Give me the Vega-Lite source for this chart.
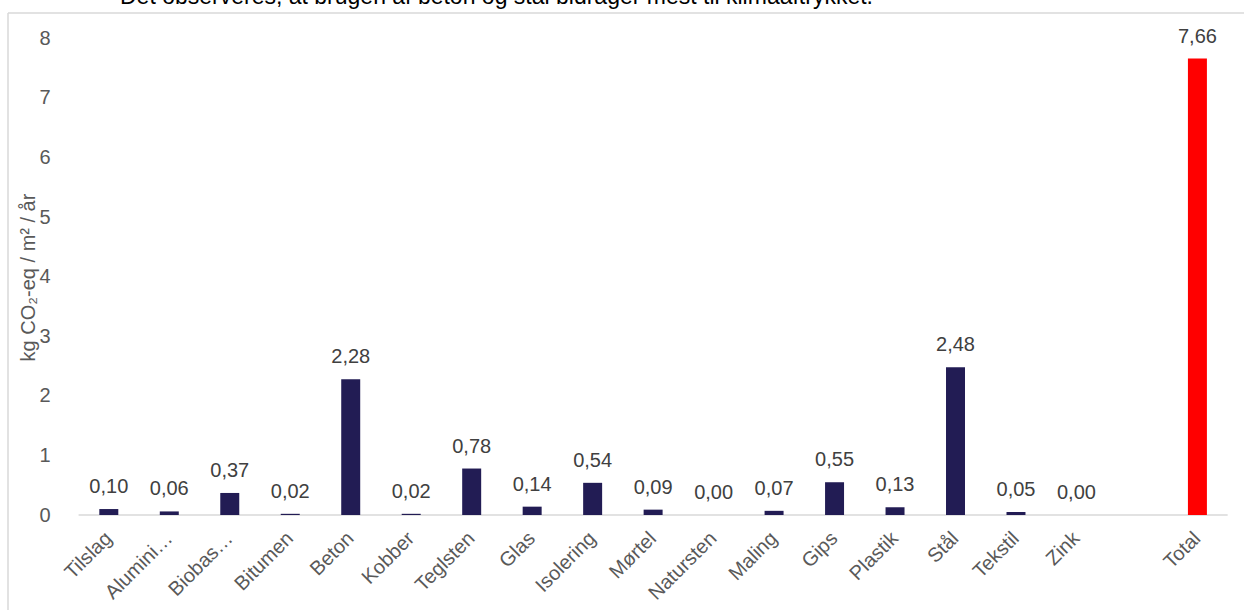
{
  "$schema": "https://vega.github.io/schema/vega-lite/v6.json",
  "autosize": "none",
  "padding": {"left": 8, "top": 13, "right": 0, "bottom": 0},
  "width": 1236,
  "height": 597,
  "config": {
    "font": "Liberation Sans",
    "locale": {"number": {"decimal": ",", "thousands": ".", "grouping": [3], "currency": ["", " kr."]}},
    "view": {"stroke": "#d9d9d9", "strokeWidth": 1.5, "strokeDash": [1236, 1833, 597, 0]}
  },
  "title": {
    "text": "Det observeres, at brugen af beton og stål bidrager mest til klimaaftrykket.",
    "anchor": "start",
    "frame": "group",
    "dx": 112,
    "dy": 15,
    "offset": 1.5,
    "baseline": "alphabetic",
    "fontSize": 23,
    "fontWeight": "normal",
    "color": "#000000"
  },
  "data": {
    "values": [
      {"materiale": "Tilslag", "vaerdi": 0.10, "gruppe": "Materiale"},
      {"materiale": "Alumini…", "vaerdi": 0.06, "gruppe": "Materiale"},
      {"materiale": "Biobas…", "vaerdi": 0.37, "gruppe": "Materiale"},
      {"materiale": "Bitumen", "vaerdi": 0.02, "gruppe": "Materiale"},
      {"materiale": "Beton", "vaerdi": 2.28, "gruppe": "Materiale"},
      {"materiale": "Kobber", "vaerdi": 0.02, "gruppe": "Materiale"},
      {"materiale": "Teglsten", "vaerdi": 0.78, "gruppe": "Materiale"},
      {"materiale": "Glas", "vaerdi": 0.14, "gruppe": "Materiale"},
      {"materiale": "Isolering", "vaerdi": 0.54, "gruppe": "Materiale"},
      {"materiale": "Mørtel", "vaerdi": 0.09, "gruppe": "Materiale"},
      {"materiale": "Natursten", "vaerdi": 0.00, "gruppe": "Materiale"},
      {"materiale": "Maling", "vaerdi": 0.07, "gruppe": "Materiale"},
      {"materiale": "Gips", "vaerdi": 0.55, "gruppe": "Materiale"},
      {"materiale": "Plastik", "vaerdi": 0.13, "gruppe": "Materiale"},
      {"materiale": "Stål", "vaerdi": 2.48, "gruppe": "Materiale"},
      {"materiale": "Tekstil", "vaerdi": 0.05, "gruppe": "Materiale"},
      {"materiale": "Zink", "vaerdi": 0.00, "gruppe": "Materiale"},
      {"materiale": "Total", "vaerdi": 7.66, "gruppe": "Total"}
    ]
  },
  "layer": [
    {
      "data": {"values": [{}]},
      "mark": {"type": "rule", "color": "#d9d9d9", "strokeWidth": 1.5},
      "encoding": {
        "x": {"datum": "Tilslag", "type": "nominal", "bandPosition": 0},
        "x2": {"datum": "Total", "bandPosition": 1},
        "y": {"datum": 0, "type": "quantitative"}
      }
    },
    {
      "mark": {"type": "bar", "width": {"band": 0.314}},
      "encoding": {
        "x": {
          "field": "materiale",
          "type": "nominal",
          "sort": null,
          "scale": {
            "domain": ["Tilslag", "Alumini…", "Biobas…", "Bitumen", "Beton", "Kobber", "Teglsten", "Glas", "Isolering", "Mørtel", "Natursten", "Maling", "Gips", "Plastik", "Stål", "Tekstil", "Zink", " ", "Total"],
            "paddingInner": 0,
            "paddingOuter": 0.7185,
            "align": 0.812
          },
          "axis": {
            "orient": "bottom",
            "offset": -95,
            "domain": false,
            "ticks": false,
            "tickSize": 0,
            "grid": false,
            "labelAngle": -45,
            "labelAlign": "right",
            "labelBaseline": "middle",
            "labelPadding": 20,
            "labelFontSize": 20,
            "labelColor": "#595959",
            "labelOverlap": false,
            "labelLimit": 0,
            "title": null
          }
        },
        "y": {
          "field": "vaerdi",
          "type": "quantitative",
          "scale": {"domain": [-1.5942, 8.4246], "nice": false, "zero": false},
          "axis": {
            "values": [0, 1, 2, 3, 4, 5, 6, 7, 8],
            "format": "d",
            "domain": false,
            "ticks": false,
            "tickSize": 0,
            "grid": false,
            "labelPadding": 0,
            "offset": -42,
            "labelFontSize": 20,
            "labelColor": "#595959",
            "title": "kg CO₂-eq / m² / år",
            "titleFontSize": 20,
            "titleFontWeight": "normal",
            "titleColor": "#595959",
            "titleX": -22,
            "titleY": 264,
            "titleAngle": -90,
            "titleAlign": "center",
            "titleBaseline": "middle"
          }
        },
        "y2": {"datum": 0},
        "color": {
          "field": "gruppe",
          "type": "nominal",
          "scale": {"domain": ["Materiale", "Total"], "range": ["#221c54", "#ff0000"]},
          "legend": null
        }
      }
    },
    {
      "mark": {"type": "text", "baseline": "alphabetic", "align": "center", "dy": -16, "fontSize": 20, "color": "#404040"},
      "encoding": {
        "x": {"field": "materiale", "type": "nominal", "sort": null},
        "y": {"field": "vaerdi", "type": "quantitative"},
        "text": {"field": "vaerdi", "type": "quantitative", "format": ".2f"}
      }
    }
  ]
}
